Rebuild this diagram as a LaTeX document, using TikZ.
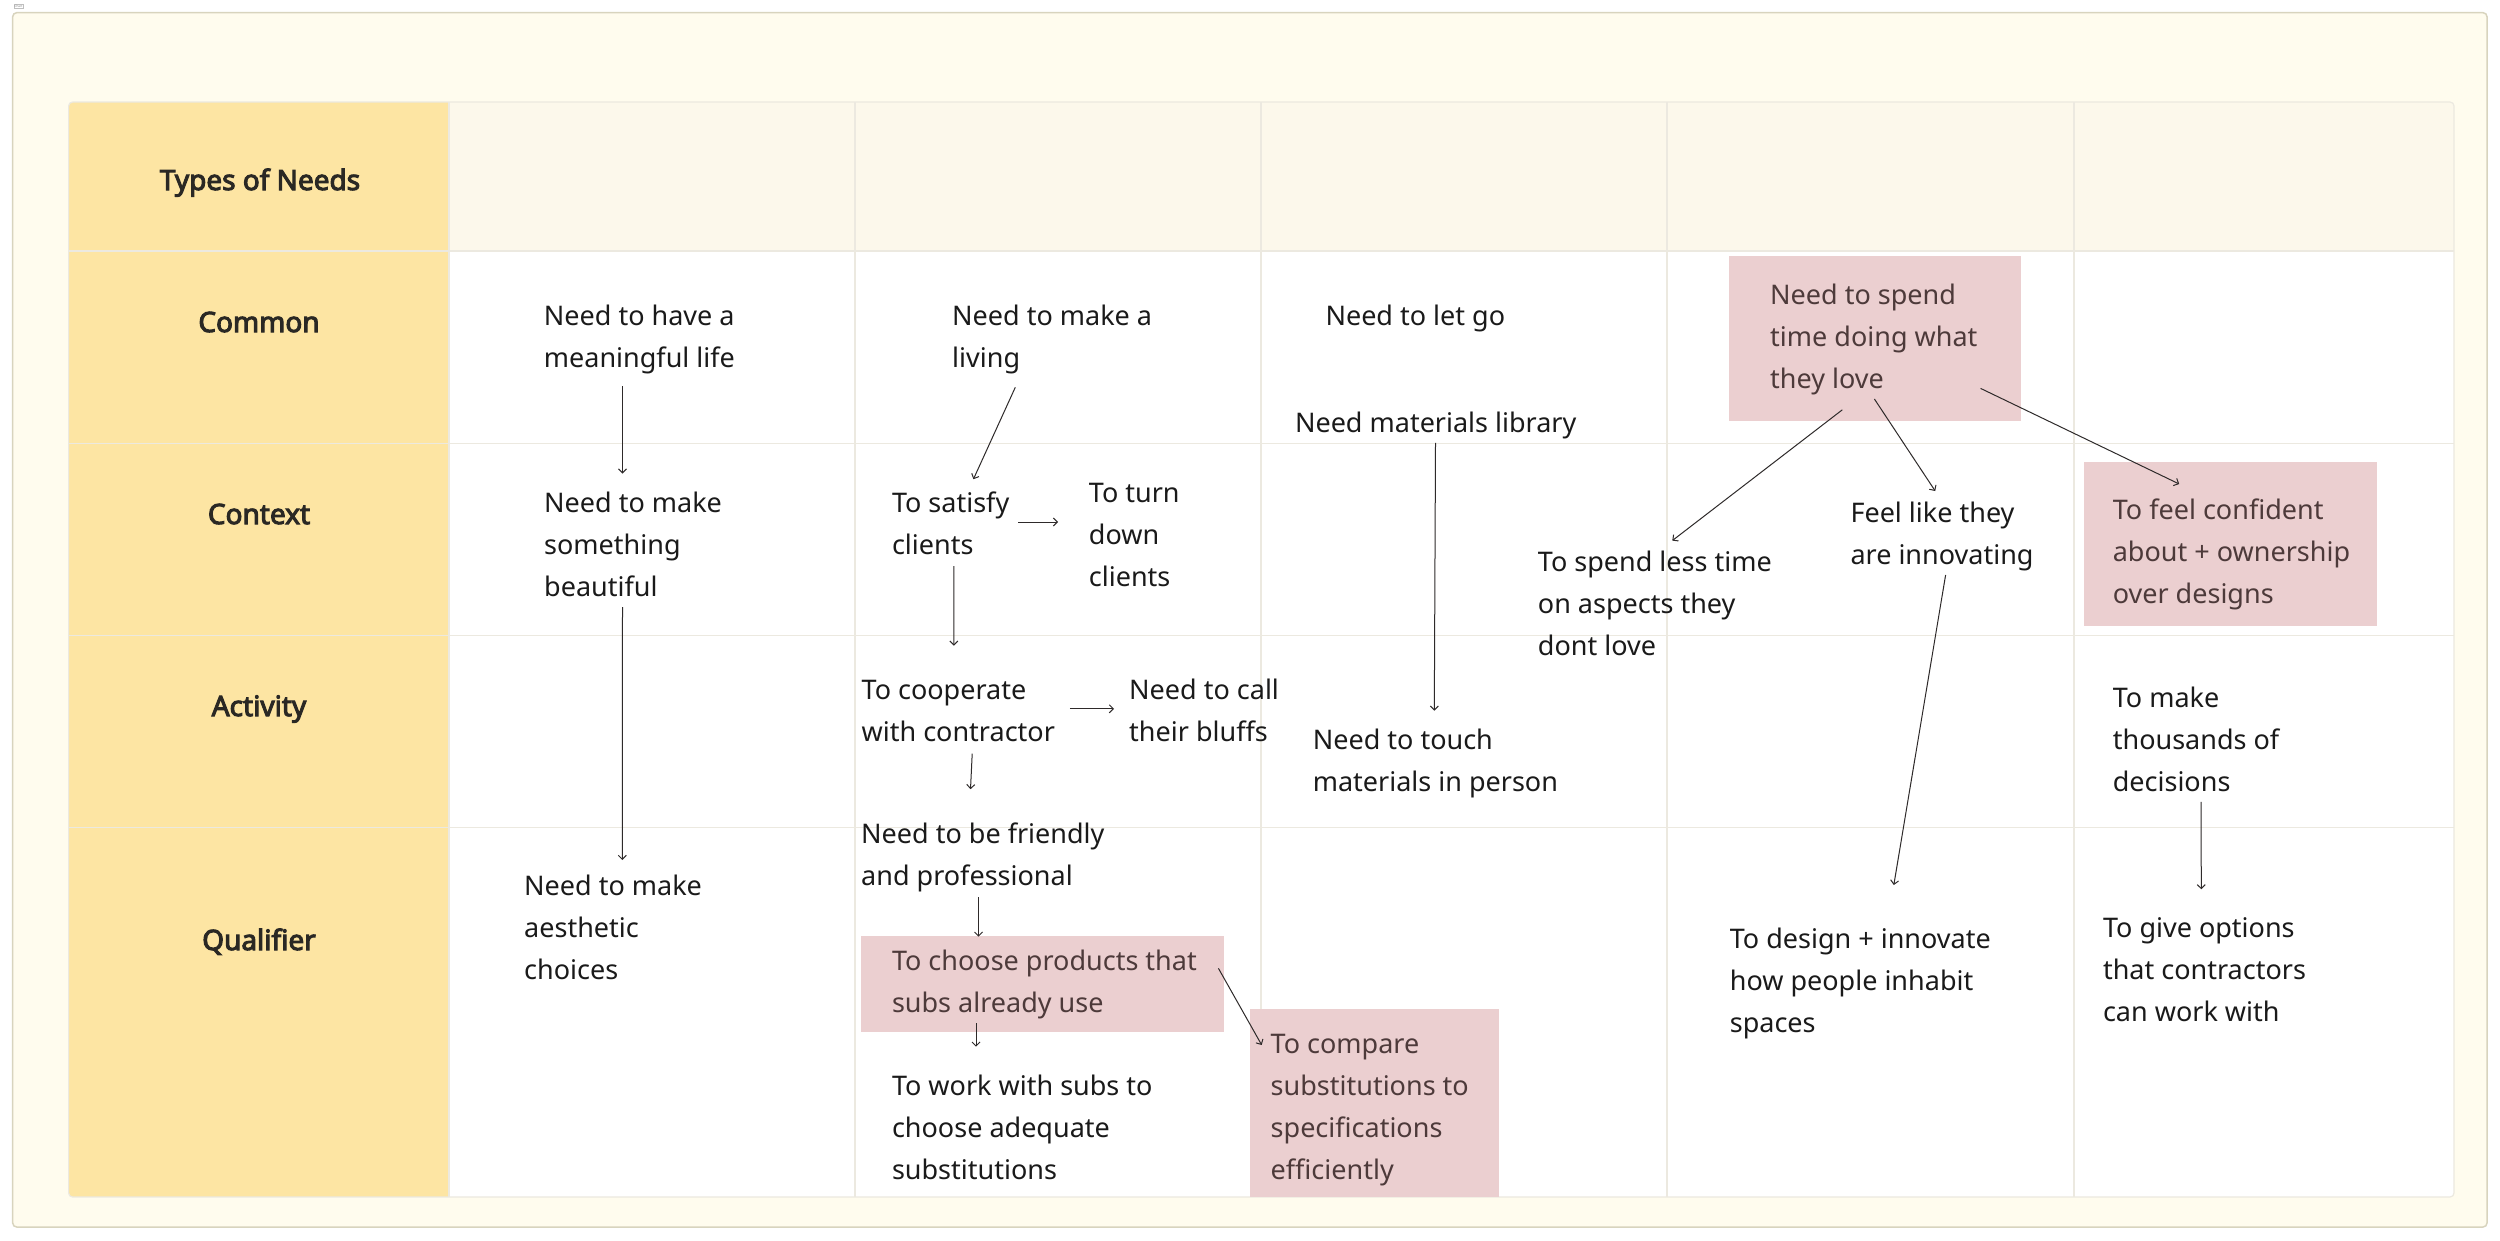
\documentclass[tikz,border=0pt]{standalone}
\usepackage{fontspec}
\setmainfont{Noto Sans}
\newfontfamily\lblfont{Noto Sans}[FakeBold=3.6]
\usetikzlibrary{arrows.meta}
\definecolor{framefill}{HTML}{FFFCEE}
\definecolor{framedraw}{HTML}{D8D4BE}
\definecolor{yellowcol}{HTML}{FDE5A3}
\definecolor{headfill}{HTML}{FCF8EB}
\definecolor{gridc}{HTML}{ECE9E0}
\definecolor{pinkc}{HTML}{EBCFD0}
\definecolor{pinktext}{HTML}{4D3A3A}
\definecolor{textc}{HTML}{1A1A1A}
\definecolor{labelc}{HTML}{2A2824}
\definecolor{arrc}{HTML}{2E2A2A}
\newcommand\T{\rule{0pt}{31pt}}
\begin{document}
\begin{tikzpicture}[x=1pt,y=-1pt,
  txt/.style={anchor=north west, inner sep=0pt, align=left,
    font=\fontsize{27}{42}\selectfont, text=textc},
  pinktxt/.style={txt, text=pinktext},
  pinkbox/.style={anchor=north west, fill=pinkc, draw=none, inner sep=0pt},
  lbl/.style={anchor=base, inner sep=0pt, font=\lblfont\fontsize{28}{32}\selectfont, text=labelc},
  arr/.style={draw=arrc, line width=1pt, -{Straight Barb[length=4pt,width=8pt]}},
  gridline/.style={draw=gridc, line width=1.2pt}
]
\useasboundingbox (0,0) rectangle (2500,1240);
% outer frame
\filldraw[fill=framefill, draw=framedraw, line width=1.5pt, rounded corners=4pt] (12.7,12.7) rectangle (2487,1227);
\node[draw=gray!50, font=\fontsize{3}{3}\selectfont, text=gray, inner sep=0.8pt] (chart) at (18.5,6.5) {Chart};
% table
\begin{scope}
  \clip[rounded corners=4pt] (68.6,102) rectangle (2454,1197);
  \fill[white] (68.6,102) rectangle (2454,1197);
  \fill[yellowcol] (68.6,102) rectangle (449,1197);
  \fill[headfill] (449,102) rectangle (2454,251);
  \foreach \xx in {449,855,1261,1667,2074}
    \draw[gridline] (\xx,102) -- (\xx,1197);
  \foreach \yy in {251,443.5,635.5,827.5}
    \draw[gridline] (68.6,\yy) -- (2454,\yy);
\end{scope}
\draw[gridline, rounded corners=4pt] (68.6,102) rectangle (2454,1197);
% row labels
\node[lbl] (hTypes) at (260,190) {Types of Needs};
\node[lbl] (hCommon) at (259,332) {Common};
\node[lbl] (hContext) at (259,524) {Context};
\node[lbl] (hActivity) at (259,716) {Activity};
\node[lbl] (hQualifier) at (259,950) {Qualifier};
% pink boxes
\node[pinkbox, minimum width=362.5pt, minimum height=95.7pt] (b1) at (861,936) {};
\node[pinkbox, minimum width=248.7pt, minimum height=188pt] (b2) at (1250,1009) {};
\node[pinkbox, minimum width=292.3pt, minimum height=164.7pt] (b3) at (1728.7,256) {};
\node[pinkbox, minimum width=293pt, minimum height=164pt] (b4) at (2084,462) {};
% texts
\node[txt] (n1) at (543.7,294.7) {\T Need to have a\\meaningful life};
\node[txt] (n2) at (544,481.2) {\T Need to make\\something\\beautiful};
\node[txt] (n3) at (524,864) {\T Need to make\\aesthetic\\choices};
\node[txt] (n4) at (952,294.4) {\T Need to make a\\living};
\node[txt] (n5) at (891.8,481) {\T To satisfy\\clients};
\node[txt] (n6) at (1088.7,470.8) {\T To turn\\down\\clients};
\node[txt] (n7) at (861.4,668.7) {\T To cooperate\\with contractor};
\node[txt] (n8) at (1129,668.7) {\T Need to call\\their bluffs};
\node[txt] (n9) at (861,812) {\T Need to be friendly\\and professional};
\node[pinktxt] (t1) at (891.8,939) {\T To choose products that\\subs already use};
\node[txt] (n10) at (891.8,1064) {\T To work with subs to\\choose adequate\\substitutions};
\node[pinktxt] (t2) at (1270.5,1022.3) {\T To compare\\substitutions to\\specifications\\efficiently};
\node[txt] (n11) at (1325.3,294.4) {\T Need to let go};
\node[txt] (n12) at (1294.8,400.8) {\T Need materials library};
\node[txt] (n13) at (1312.6,718.4) {\T Need to touch\\materials in person};
\node[pinktxt] (t3) at (1770,273) {\T Need to spend\\time doing what\\they love};
\node[txt] (n14) at (1537.7,540.5) {\T To spend less time\\on aspects they\\dont love};
\node[txt] (n15) at (1850.3,491.5) {\T Feel like they\\are innovating};
\node[txt] (n16) at (1729.6,917) {\T To design + innovate\\how people inhabit\\spaces};
\node[pinktxt] (t4) at (2112.6,488) {\T To feel confident\\about + ownership\\over designs};
\node[txt] (n17) at (2112.6,675.9) {\T To make\\thousands of\\decisions};
\node[txt] (n18) at (2102.8,906.3) {\T To give options\\that contractors\\can work with};
% connectors
\draw[arr] ([shift={(78.8,91.3)}]n1.north west) -- ([shift={(78.5,-7.7)}]n2.north west);
\draw[arr] ([shift={(78.5,126)}]n2.north west) -- ([shift={(98.3,-4)}]n3.north west);
\draw[arr] ([shift={(63.3,92.9)}]n4.north west) -- ([shift={(81.6,-1.8)}]n5.north west);
\draw[arr] ([shift={(126.2,41)}]n5.north west) -- ([shift={(-30.7,51.2)}]n6.north west);
\draw[arr] ([shift={(62,85)}]n5.north west) -- ([shift={(92.4,-23)}]n7.north west);
\draw[arr] ([shift={(208.4,40.1)}]n7.north west) -- ([shift={(-15,40.1)}]n8.north west);
\draw[arr] ([shift={(110.8,84.9)}]n7.north west) -- ([shift={(109.5,-22.8)}]n9.north west);
\draw[arr] ([shift={(117.5,85.3)}]n9.north west) -- ([shift={(117.5,0.7)}]b1.north west);
\draw[arr] ([shift={(115,87)}]b1.north west) -- ([shift={(84.2,-17.3)}]n10.north west);
\draw[arr] ([shift={(357.4,32.3)}]b1.north west) -- ([shift={(11.7,36)}]b2.north west);
\draw[arr] ([shift={(140.7,42)}]n12.north west) -- ([shift={(121.7,-7.7)}]n13.north west);
\draw[arr] ([shift={(113.6,153.8)}]b3.north west) -- ([shift={(134.6,0.1)}]n14.north west);
\draw[arr] ([shift={(145.7,143)}]b3.north west) -- ([shift={(84.9,-0.5)}]n15.north west);
\draw[arr] ([shift={(251.9,132.4)}]b3.north west) -- ([shift={(95.2,22)}]b4.north west);
\draw[arr] ([shift={(95.3,83.5)}]n15.north west) -- ([shift={(164.2,-32)}]n16.north west);
\draw[arr] ([shift={(88.4,125.9)}]n17.north west) -- ([shift={(98.5,-17)}]n18.north west);
\end{tikzpicture}
\end{document}
